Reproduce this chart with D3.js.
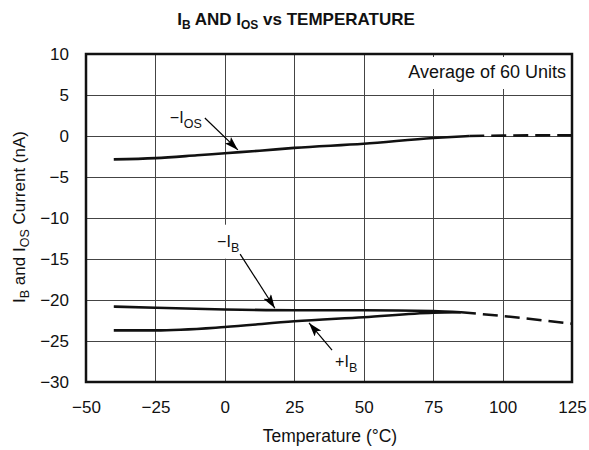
<!DOCTYPE html>
<html>
<head>
<meta charset="utf-8">
<script src="https://cdn.jsdelivr.net/npm/d3@7"></script>
<style>
  body { margin: 0; background: #fff; }
  svg { font-family: "Liberation Sans", Arial, Helvetica, sans-serif; }
</style>
</head>
<body>
<svg id="chart" width="589" height="450"></svg>
<script>
'use strict';

// axis ticks
var xTicks = [-50, -25, 0, 25, 50, 75, 100, 125];
var yTicks = [10, 5, 0, -5, -10, -15, -20, -25, -30];

// -IOS curve (nA vs degC), solid up to 88 degC, dashed after
var iosTemp = [-40, -25, -10, 0, 12.5, 25, 50, 75, 88, 100, 125];
var iosVal  = [-2.85, -2.7, -2.35, -2.1, -1.8, -1.45, -0.95, -0.25, 0, 0.05, 0.1];
var iosSolidEnd = 88;

// -IB curve, solid up to 85 degC, dashed after (shared with +IB)
var negIbTemp = [-40, -25, 0, 25, 50, 75, 85, 100, 125];
var negIbVal  = [-20.8, -20.95, -21.15, -21.25, -21.25, -21.35, -21.5, -21.95, -22.9];
var negIbSolidEnd = 85;

// +IB curve, joins -IB near 85 degC
var posIbTemp = [-40, -25, 0, 25, 50, 75, 85];
var posIbVal  = [-23.7, -23.7, -23.3, -22.6, -22.1, -21.55, -21.5];

// curve labels: text, subscript, label anchor and arrow (data units)
var labelText = ["\u2212I", "\u2212I", "+I"];
var labelSub  = ["OS", "B", "B"];
var labelAt   = [[-19.8, 1.6], [-2.8, -13.5], [39.7, -28.2]];
var arrowFrom = [[-7.2, 2.2], [5.5, -14.4], [38.6, -26.1]];
var arrowTo   = [[4.7, -1.7], [18.0, -21.0], [30.3, -22.8]];

var noteText = "Average of 60 Units";

var svg = d3.select("#chart");
var pLeft = 86, pRight = 572, pTop = 54, pBottom = 382;

var x = d3.scaleLinear().domain([-50, 125]).range([pLeft, pRight]);
var y = d3.scaleLinear().domain([-30, 10]).range([pBottom, pTop]);

var zip = function(ts, vs) { return ts.map(function(t, i) { return [t, vs[i]]; }); };

// grid
var grid = svg.append("g").attr("stroke", "#444").attr("stroke-width", 1);
grid.selectAll("line.v")
    .data(xTicks.slice(1, -1))
    .enter().append("line")
    .attr("x1", function(d) { return Math.round(x(d)) + 0.5; })
    .attr("x2", function(d) { return Math.round(x(d)) + 0.5; })
    .attr("y1", pTop).attr("y2", pBottom);
grid.selectAll("line.h")
    .data(yTicks.slice(1, -1))
    .enter().append("line")
    .attr("y1", function(d) { return Math.round(y(d)) + 0.5; })
    .attr("y2", function(d) { return Math.round(y(d)) + 0.5; })
    .attr("x1", pLeft).attr("x2", pRight);

// axes (labels only, frame drawn separately)
var xAxis = svg.append("g")
    .attr("transform", "translate(0," + pBottom + ")")
    .call(d3.axisBottom(x).tickValues(xTicks).tickSize(0).tickPadding(19));
var yAxis = svg.append("g")
    .attr("transform", "translate(" + pLeft + ",0)")
    .call(d3.axisLeft(y).tickValues(yTicks).tickSize(0).tickPadding(17));
[xAxis, yAxis].forEach(function(a) {
    a.select(".domain").remove();
    a.attr("font-size", null).attr("font-family", null);
    a.selectAll("text")
        .style("font-size", "17px")
        .attr("fill", "#111");
});

// note box
var noteG = svg.append("g");
var noteBg = noteG.append("rect").attr("fill", "#fff");
var note = noteG.append("text")
    .attr("x", pRight - 6).attr("y", 78)
    .attr("text-anchor", "end")
    .style("font-size", "18px")
    .attr("fill", "#111")
    .text(noteText);
var nb = note.node().getBBox();
noteBg.attr("x", nb.x - 5).attr("y", pTop + 3)
    .attr("width", pRight - nb.x + 3).attr("height", 32);

// curve labels with white backing
var labels = svg.append("g");
labelText.forEach(function(t, i) {
    var g = labels.append("g");
    var bg = g.append("rect").attr("fill", "#fff");
    var tx = g.append("text")
        .attr("x", x(labelAt[i][0])).attr("y", y(labelAt[i][1]))
        .style("font-size", "16px").attr("fill", "#111");
    tx.append("tspan").text(t);
    tx.append("tspan").attr("dy", 5).style("font-size", "12.5px").text(labelSub[i]);
    var b = tx.node().getBBox();
    bg.attr("x", b.x - 3).attr("y", b.y - 8)
        .attr("width", b.width + 6).attr("height", b.height + 12);
});

// arrowhead marker
svg.append("defs").append("marker")
    .attr("id", "head")
    .attr("viewBox", "0 0 14 9")
    .attr("refX", 14).attr("refY", 4.5)
    .attr("markerWidth", 14).attr("markerHeight", 9)
    .attr("markerUnits", "userSpaceOnUse")
    .attr("orient", "auto")
    .append("path").attr("d", "M0,0 L14,4.5 L0,9 L3,4.5 Z").attr("fill", "#000");

svg.append("g").selectAll("line")
    .data(arrowFrom)
    .enter().append("line")
    .attr("x1", function(d) { return x(d[0]); })
    .attr("y1", function(d) { return y(d[1]); })
    .attr("x2", function(d, i) { return x(arrowTo[i][0]); })
    .attr("y2", function(d, i) { return y(arrowTo[i][1]); })
    .attr("stroke", "#000").attr("stroke-width", 1.2)
    .attr("marker-end", "url(#head)");

// curves
var line = d3.line()
    .x(function(d) { return x(d[0]); })
    .y(function(d) { return y(d[1]); })
    .curve(d3.curveMonotoneX);

function drawCurve(pts, cut) {
    var solid = pts.filter(function(p) { return p[0] <= cut; });
    var dashed = pts.filter(function(p) { return p[0] >= cut; });
    svg.append("path").attr("d", line(solid))
        .attr("fill", "none").attr("stroke", "#111").attr("stroke-width", 2.6);
    if (dashed.length > 1) {
        svg.append("path").attr("d", line(dashed))
            .attr("fill", "none").attr("stroke", "#111").attr("stroke-width", 2.6)
            .attr("stroke-dasharray", "15,7");
    }
}
drawCurve(zip(iosTemp, iosVal), iosSolidEnd);
drawCurve(zip(negIbTemp, negIbVal), negIbSolidEnd);
drawCurve(zip(posIbTemp, posIbVal), 200);

// frame
svg.append("rect")
    .attr("x", pLeft).attr("y", pTop)
    .attr("width", pRight - pLeft).attr("height", pBottom - pTop)
    .attr("fill", "none").attr("stroke", "#111").attr("stroke-width", 2.5);

// title
var title = svg.append("text")
    .attr("x", 296).attr("y", 25)
    .attr("text-anchor", "middle")
    .style("font-size", "17px").style("font-weight", "bold")
    .attr("fill", "#111");
title.append("tspan").text("I");
title.append("tspan").attr("dy", 4).style("font-size", "12px").text("B");
title.append("tspan").attr("dy", -4).text(" AND I");
title.append("tspan").attr("dy", 4).style("font-size", "12px").text("OS");
title.append("tspan").attr("dy", -4).text(" vs TEMPERATURE");

// axis titles
svg.append("text")
    .attr("x", 330).attr("y", 442)
    .attr("text-anchor", "middle")
    .style("font-size", "17.5px").attr("fill", "#111")
    .text("Temperature (\u00B0C)");

var yt = svg.append("text")
    .attr("transform", "translate(25," + 217 + ") rotate(-90)")
    .attr("text-anchor", "middle")
    .style("font-size", "17px").attr("fill", "#111");
yt.append("tspan").text("I");
yt.append("tspan").attr("dy", 4).style("font-size", "12.5px").text("B");
yt.append("tspan").attr("dy", -4).text(" and I");
yt.append("tspan").attr("dy", 4).style("font-size", "12.5px").text("OS");
yt.append("tspan").attr("dy", -4).text(" Current (nA)");
</script>
</body>
</html>
